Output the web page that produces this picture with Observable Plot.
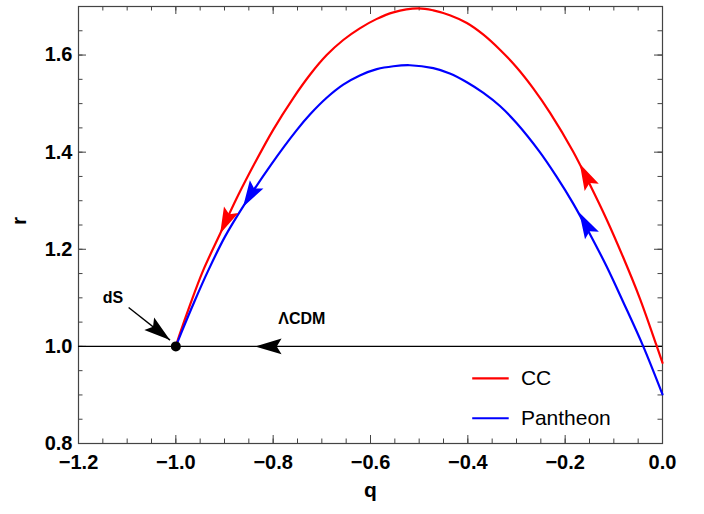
<!DOCTYPE html>
<html>
<head>
<meta charset="utf-8">
<script src="https://cdn.jsdelivr.net/npm/d3@7"></script>
<script src="https://cdn.jsdelivr.net/npm/@observablehq/plot@0.6"></script>
<style>
  body { margin: 0; background: #fff; }
  #chart svg { display: block; }
</style>
</head>
<body>
<div id="chart"></div>
<script>
// ---- data ----
const ccQ = [-1.0, -0.993, -0.971, -0.944, -0.909, -0.874, -0.838, -0.800, -0.759, -0.724, -0.690, -0.656, -0.622, -0.588, -0.553, -0.502, -0.471, -0.437, -0.402, -0.368, -0.334, -0.300, -0.266, -0.231, -0.184, -0.149, -0.115, -0.081, -0.047, -0.013, 0.0];
const ccR = [1.0, 1.022, 1.085, 1.156, 1.232, 1.307, 1.377, 1.446, 1.511, 1.560, 1.600, 1.631, 1.655, 1.674, 1.688, 1.696, 1.692, 1.682, 1.666, 1.642, 1.611, 1.575, 1.532, 1.481, 1.402, 1.333, 1.262, 1.184, 1.100, 1.004, 0.966];

const panQ = [-1.0, -0.988, -0.962, -0.934, -0.899, -0.858, -0.806, -0.752, -0.724, -0.690, -0.656, -0.622, -0.587, -0.553, -0.519, -0.471, -0.437, -0.402, -0.368, -0.334, -0.300, -0.252, -0.218, -0.184, -0.149, -0.115, -0.081, -0.040, 0.0];
const panR = [1.0, 1.030, 1.092, 1.155, 1.226, 1.294, 1.372, 1.445, 1.478, 1.512, 1.539, 1.558, 1.571, 1.577, 1.579, 1.573, 1.562, 1.544, 1.522, 1.495, 1.460, 1.400, 1.350, 1.295, 1.231, 1.165, 1.092, 1.001, 0.901];

const seriesNames = ["CC", "Pantheon"];
const seriesColors = ["#ff0000", "#0000ff"];

// flow arrowheads on the curves (tip positions)
const arrowSeries = ["CC", "Pantheon", "CC", "Pantheon"];
const arrowQ = [-0.909, -0.862, -0.170, -0.171];
const arrowR = [1.232, 1.287, 1.376, 1.276];

// ΛCDM line and its arrow
const lcdmR = 1.0;
const lcdmArrowQ = -0.837;

// de Sitter point
const dsQ = -1.0, dsR = 1.0;

// annotation labels
const labelText = ["dS", "ΛCDM"];
const labelQ = [-1.129, -0.741];
const labelR = [1.100, 1.056];
// dS pointer (start -> tip)
const pointerQ = [-1.097, -1.012];
const pointerR = [1.080, 1.013];

const xTicks = [-1.2, -1.0, -0.8, -0.6, -0.4, -0.2, 0.0];
const yTicks = [0.8, 1.0, 1.2, 1.4, 1.6];
const xMinor = d3.range(0, 25).map(i => -1.2 + i * 0.05);
const yMinor = d3.range(0, 18).map(i => 0.8 + i * 0.05);

// ---- layout ----
const W = 704, H = 514;
const mL = 78, mR = 42, mT = 6, mB = 71;
const xDomain = [-1.2, 0.0], yDomain = [0.8, 1.7];
const plotW = W - mL - mR, plotH = H - mT - mB;
const kx = plotW / (xDomain[1] - xDomain[0]);
const ky = plotH / (yDomain[1] - yDomain[0]);
const font = "'Liberation Sans', Arial, Helvetica, sans-serif";

const cc = ccQ.map((q, i) => ({q, r: ccR[i], s: "CC"}));
const pan = panQ.map((q, i) => ({q, r: panR[i], s: "Pantheon"}));
const curves = {CC: [ccQ, ccR], Pantheon: [panQ, panR]};

function slopeAt(name, tq) {
  const [Q, R] = curves[name];
  for (let i = 0; i < Q.length - 1; i++) {
    if (tq >= Q[i] && tq <= Q[i + 1]) return (R[i + 1] - R[i]) / (Q[i + 1] - Q[i]);
  }
  return 0;
}
// screen angle (deg) of a data-space direction
function flowAngle(dq, dr) {
  return Math.atan2(-dr * ky, dq * kx) * 180 / Math.PI;
}

const arrows = arrowQ.map((q, i) => {
  const s = slopeAt(arrowSeries[i], q);
  return {q, r: arrowR[i], angle: flowAngle(-1, -s), color: seriesColors[seriesNames.indexOf(arrowSeries[i])]};
});
arrows.push({q: lcdmArrowQ, r: lcdmR, angle: flowAngle(-1, 0), color: "#000"});
arrows.push({q: pointerQ[1], r: pointerR[1], angle: flowAngle(pointerQ[1] - pointerQ[0], pointerR[1] - pointerR[0]), color: "#000"});

const arrowHead = {
  draw(ctx, size) {
    const u = Math.sqrt(size / Math.PI) / 10;
    const L = 22 * u, hw = 6.6 * u, n = 18 * u;
    ctx.moveTo(0, 0);
    ctx.lineTo(-L, -hw);
    ctx.lineTo(-n, 0);
    ctx.lineTo(-L, hw);
    ctx.closePath();
  }
};

const legendRows = seriesNames.map((name, i) => ({name, color: seriesColors[i], r: [0.934, 0.852][i]}));

const tickColor = "#444";
const fmtX = d => Math.abs(d) < 1e-9 ? "0.0" : (d < 0 ? "\u2212" : "") + Math.abs(d).toFixed(1);

const chart = Plot.plot({
  width: W, height: H,
  marginLeft: mL, marginRight: mR, marginTop: mT, marginBottom: mB,
  style: {fontFamily: font, fontSize: "20px", fontWeight: "bold", background: "#fff", color: "#000"},
  x: {domain: xDomain},
  y: {domain: yDomain},
  color: {type: "identity"},
  marks: [
    // minor ticks
    Plot.tickX(xMinor, {x: d => d, insetTop: plotH - 4.5, stroke: tickColor}),
    Plot.tickX(xMinor, {x: d => d, insetBottom: plotH - 4.5, stroke: tickColor}),
    Plot.tickY(yMinor, {y: d => d, insetRight: plotW - 4.5, stroke: tickColor}),
    Plot.tickY(yMinor, {y: d => d, insetLeft: plotW - 4.5, stroke: tickColor}),
    // major ticks
    Plot.tickX(xTicks, {x: d => d, insetTop: plotH - 8, stroke: tickColor}),
    Plot.tickX(xTicks, {x: d => d, insetBottom: plotH - 8, stroke: tickColor}),
    Plot.tickY(yTicks, {y: d => d, insetRight: plotW - 8, stroke: tickColor}),
    Plot.tickY(yTicks, {y: d => d, insetLeft: plotW - 8, stroke: tickColor}),
    Plot.frame({stroke: tickColor, strokeWidth: 1.2}),
    Plot.axisX(xTicks, {tickSize: 0, tickPadding: 11, tickFormat: fmtX, fontSize: 20, fontWeight: "bold", label: null}),
    Plot.axisY(yTicks, {tickSize: 0, tickPadding: 6, tickFormat: d => d.toFixed(1), fontSize: 20, fontWeight: "bold", label: null}),
    // ΛCDM line
    Plot.ruleY([lcdmR], {stroke: "#000", strokeWidth: 1.4}),
    // curves
    Plot.line(cc, {x: "q", y: "r", stroke: seriesColors[0], strokeWidth: 2.2, curve: "catmull-rom"}),
    Plot.line(pan, {x: "q", y: "r", stroke: seriesColors[1], strokeWidth: 2.2, curve: "catmull-rom"}),
    // dS pointer shaft
    Plot.link([0], {x1: () => pointerQ[0], y1: () => pointerR[0], x2: () => pointerQ[1], y2: () => pointerR[1], stroke: "#000", strokeWidth: 1.4}),
    // arrowheads
    Plot.dot(arrows, {x: "q", y: "r", r: 12, symbol: arrowHead, rotate: "angle", fill: "color", stroke: "none"}),
    // dS point
    Plot.dot([dsQ], {x: d => d, y: () => dsR, r: 5, fill: "#000", stroke: "none"}),
    // labels
    Plot.text(labelText, {x: (d, i) => labelQ[i], y: (d, i) => labelR[i], text: d => d, fontSize: 16, fontWeight: "bold", fill: "#000"}),
    // legend
    Plot.link(legendRows, {x1: () => -0.391, x2: () => -0.316, y1: "r", y2: "r", stroke: "color", strokeWidth: 2.2}),
    Plot.text(legendRows, {x: () => -0.291, y: "r", text: "name", textAnchor: "start", fontSize: 21, fontWeight: "normal", fill: "#000"}),
    // axis titles
    Plot.text(["q"], {frameAnchor: "bottom", dy: 53, text: d => d, fontSize: 21, fontWeight: "bold", fill: "#000"}),
    Plot.text(["r"], {frameAnchor: "left", dx: -59, rotate: -90, text: d => d, fontSize: 21, fontWeight: "bold", fill: "#000"})
  ]
});
document.getElementById("chart").appendChild(chart);
</script>
</body>
</html>
